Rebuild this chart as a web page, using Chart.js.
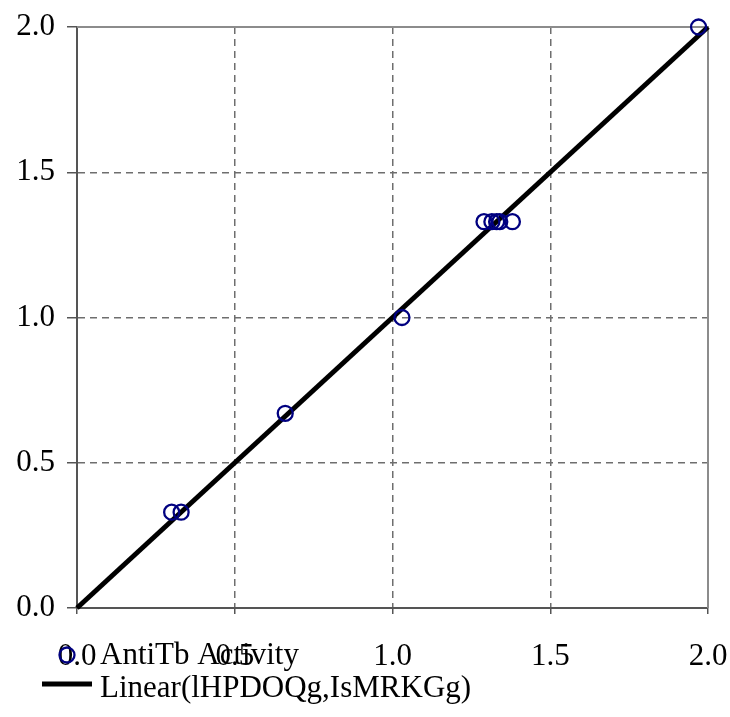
<!DOCTYPE html>
<html>
<head>
<meta charset="utf-8">
<script src="https://cdn.jsdelivr.net/npm/chart.js@4/dist/chart.umd.min.js"></script>
<style>
  html, body { margin: 0; padding: 0; background: #fff; }
  #wrap { width: 730px; height: 717px; }
</style>
</head>
<body>
<div id="wrap"><canvas id="myChart" width="730" height="717"></canvas></div>
<script>
// measured points (x, y)
const activityX = [0.30, 0.33, 0.66, 1.03, 1.29, 1.315, 1.33, 1.34, 1.38, 1.97];
const activityY = [0.33, 0.33, 0.67, 1.00, 1.33, 1.33, 1.33, 1.33, 1.33, 2.00];
// fitted line endpoints
const fitX = [0, 2];
const fitY = [0, 2];
const tickValues = [0, 0.5, 1.0, 1.5, 2.0];

const fontFamily = "'Liberation Serif', 'Times New Roman', serif";
const fontSize = 31;

// box edges top / right + custom legend below the plot
const boxAndLegend = {
  id: "boxAndLegend",
  beforeDatasetsDraw(chart) {
    const { ctx, chartArea: a } = chart;
    ctx.save();
    ctx.strokeStyle = "#8c8c8c";
    ctx.lineWidth = 2;
    ctx.beginPath();
    ctx.moveTo(a.left, a.top);
    ctx.lineTo(a.right, a.top);
    ctx.lineTo(a.right, a.bottom);
    ctx.stroke();
    ctx.restore();
  },
  afterDraw(chart) {
    const ctx = chart.ctx;
    const ds = chart.data.datasets;
    ctx.save();
    ctx.font = fontSize + "px " + fontFamily;
    ctx.fillStyle = "#000";
    ctx.textBaseline = "middle";
    ctx.textAlign = "left";
    // scatter entry
    ctx.beginPath();
    ctx.arc(67, 655, 7.5, 0, Math.PI * 2);
    ctx.strokeStyle = ds[0].borderColor;
    ctx.lineWidth = ds[0].borderWidth;
    ctx.stroke();
    ctx.fillText(ds[0].label, 100, 656);
    // line entry
    ctx.beginPath();
    ctx.moveTo(42, 684);
    ctx.lineTo(92, 684);
    ctx.strokeStyle = ds[1].borderColor;
    ctx.lineWidth = ds[1].borderWidth;
    ctx.stroke();
    ctx.fillText(ds[1].label, 100, 689);
    ctx.restore();
  }
};

const ctx = document.getElementById("myChart").getContext("2d");
const myChart = new Chart(ctx, {
  type: "scatter",
  data: {
    datasets: [
      {
        label: "AntiTb Activity",
        data: activityX.map((x, i) => ({ x: x, y: activityY[i] })),
        pointStyle: "circle",
        pointRadius: 7.5,
        pointHoverRadius: 7.5,
        borderColor: "#000080",
        backgroundColor: "rgba(0,0,0,0)",
        borderWidth: 2.3,
        clip: false,
        order: 0,
      },
      {
        label: "Linear(lHPDOQg,IsMRKGg)",
        type: "line",
        data: fitX.map((x, i) => ({ x: x, y: fitY[i] })),
        borderColor: "#000",
        borderWidth: 5,
        pointRadius: 0,
        fill: false,
        clip: false,
        order: 1,
      },
    ],
  },
  options: {
    responsive: false,
    animation: false,
    layout: { padding: { top: 27, right: 22, left: 0, bottom: 0 } },
    plugins: {
      legend: { display: false },
      tooltip: { enabled: false },
    },
    scales: {
      x: {
        type: "linear",
        min: 0,
        max: 2,
        afterBuildTicks: (s) => { s.ticks = tickValues.map((v) => ({ value: v })); },
        afterFit: (s) => { s.height = 109; s.paddingLeft = 0; s.paddingRight = 0; },
        ticks: {
          callback: (v) => Number(v).toFixed(1),
          color: "#000",
          font: { family: fontFamily, size: fontSize },
          padding: 24,
          maxRotation: 0,
        },
        grid: {
          color: (c) => (c.tick && (c.tick.value === 0 || c.tick.value === 2) ? "rgba(0,0,0,0)" : "#6e6e6e"),
          tickColor: "#555",
          tickLength: 6,
          lineWidth: 1.5,
        },
        border: { color: "#555", width: 2, dash: [7, 5] },
      },
      y: {
        type: "linear",
        min: 0,
        max: 2,
        afterBuildTicks: (s) => { s.ticks = tickValues.map((v) => ({ value: v })); },
        afterFit: (s) => { s.width = 77; s.paddingTop = 0; s.paddingBottom = 0; },
        ticks: {
          callback: (v) => Number(v).toFixed(1),
          color: "#000",
          font: { family: fontFamily, size: fontSize },
          padding: 12,
        },
        grid: {
          color: (c) => (c.tick && (c.tick.value === 0 || c.tick.value === 2) ? "rgba(0,0,0,0)" : "#6e6e6e"),
          tickColor: "#555",
          tickLength: 10,
          lineWidth: 1.5,
        },
        border: { color: "#555", width: 2, dash: [7, 5] },
      },
    },
  },
  plugins: [boxAndLegend],
});
</script>
</body>
</html>
